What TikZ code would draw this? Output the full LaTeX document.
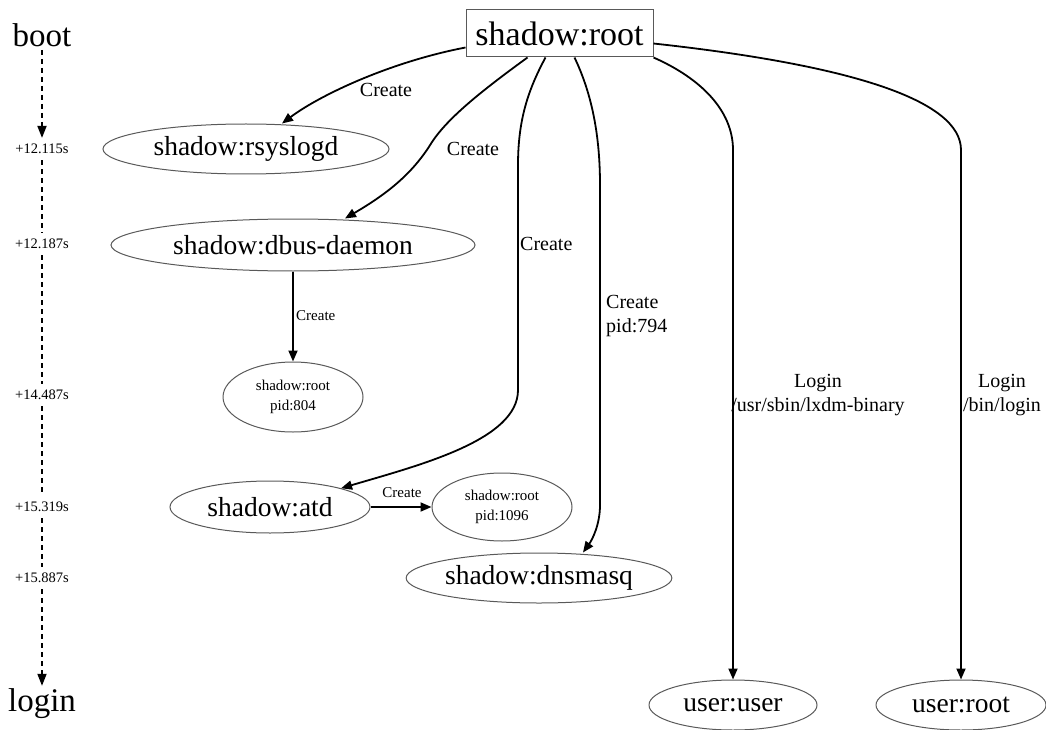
\documentclass[tikz,border=0pt]{standalone}
\usepackage{fontspec}
\setmainfont{Liberation Serif}
\usetikzlibrary{shapes.geometric,arrows.meta}
\begin{document}
\begin{tikzpicture}[x=1pt,y=-1pt,
  ell/.style={draw=black!65, line width=1pt, ellipse, inner sep=0pt},
  bigtxt/.style={font=\fontsize{27.5}{30}\selectfont},
  smalltxt/.style={font=\fontsize{15}{20}\selectfont, align=center},
  conn/.style={line width=1.8pt, -{Triangle[length=11pt,width=9pt]}},
  elab/.style={font=\fontsize{20}{24}\selectfont, inner sep=0pt},
  slab/.style={font=\fontsize{15}{18}\selectfont, inner sep=0pt},
  timelab/.style={font=\fontsize{14.5}{16}\selectfont, inner sep=6pt},
  endlab/.style={font=\fontsize{33}{36}\selectfont, inner sep=3pt},
  tline/.style={line width=1.8pt, dash pattern=on 5pt off 4pt},
  tarrow/.style={tline, -{Triangle[length=12pt,width=9pt]}}
]
\useasboundingbox (0,0) rectangle (1046,730);

% timeline
\node[endlab] (boot) at (42,35) {boot};
\node[timelab] (t1) at (42,149) {+12.115s};
\node[timelab] (t2) at (42,244) {+12.187s};
\node[timelab] (t3) at (42,395) {+14.487s};
\node[timelab] (t4) at (42,507) {+15.319s};
\node[timelab] (t5) at (42,578) {+15.887s};
\node[endlab] (login) at (42,704) {login};
\draw[tarrow] (boot) -- (t1);
\draw[tline] (t1) -- (t2);
\draw[tline] (t2) -- (t3);
\draw[tline] (t3) -- (t4);
\draw[tline] (t4) -- (t5);
\draw[tarrow] (t5) -- (login);

% nodes
\node[draw=black!65, line width=1pt, rectangle, inner sep=0pt, minimum width=187pt, minimum height=47pt,
      font=\fontsize{34}{36}\selectfont] (root) at (559.5,33.5) {shadow:root};
\node[ell, bigtxt, minimum width=286pt, minimum height=50pt] (rsys) at (246,149) {shadow:rsyslogd};
\node[ell, bigtxt, minimum width=364pt, minimum height=52pt] (dbus) at (293,245) {shadow:dbus-daemon};
\node[ell, smalltxt, minimum width=140pt, minimum height=70pt] (p804) at (293,397) {shadow:root\\pid:804};
\node[ell, bigtxt, minimum width=200pt, minimum height=52pt] (atd) at (270,507) {shadow:atd};
\node[ell, smalltxt, minimum width=140pt, minimum height=68pt] (p1096) at (502,507) {shadow:root\\pid:1096};
\node[ell, bigtxt, minimum width=258pt, minimum height=50pt] (dns) at (539,578) {shadow:dnsmasq};
\node[ell, bigtxt, minimum width=168pt, minimum height=50pt] (uuser) at (733,705) {user:user};
\node[ell, bigtxt, minimum width=170pt, minimum height=50pt] (uroot) at (961,705) {user:root};

% connectors
\draw[conn] ([yshift=-14pt]root.west) .. controls (390,62) and (320,95) .. ([xshift=36pt]rsys.north);
\draw[conn] ([xshift=-32pt]root.south) .. controls (480,92) and (448,118) .. (432,142)
            .. controls (412,175) and (385,195) .. ([xshift=52pt]dbus.north);
\draw[conn] ([xshift=-14pt]root.south) .. controls (528,90) and (518,120) .. (518,165) -- (518,390)
            .. controls (518,440) and (420,465) .. (atd.north east);
\draw[conn] ([xshift=15pt]root.south) .. controls (590,90) and (600,130) .. (600,185) -- (600,505)
            .. controls (600,525) and (592,540) .. ([xshift=44pt]dns.north);
\draw[conn] (root.south east) .. controls (700,78) and (733,110) .. (733,150) -- (uuser.north);
\draw[conn] ([yshift=-10pt]root.east) .. controls (850,65) and (961,100) .. (961,150) -- (uroot.north);
\draw[conn] (dbus.south) -- (p804.north);
\draw[conn] (atd.east) -- (p1096.west);

% labels
\node[elab] (l1) at (386,90) {Create};
\node[elab] (l2) at (473,149) {Create};
\node[elab, anchor=west] (l3) at (520,244) {Create};
\node[elab, anchor=west, align=left] (l4) at (606,316) {Create\\pid:794};
\node[slab, anchor=west] (l5) at (296,316) {Create};
\node[slab] (l6) at (402,493) {Create};
\node[elab, align=center] (l7) at (818,395) {Login\\/usr/sbin/lxdm-binary};
\node[elab, align=center] (l8) at (1002,395) {Login\\/bin/login};
\end{tikzpicture}
\end{document}
